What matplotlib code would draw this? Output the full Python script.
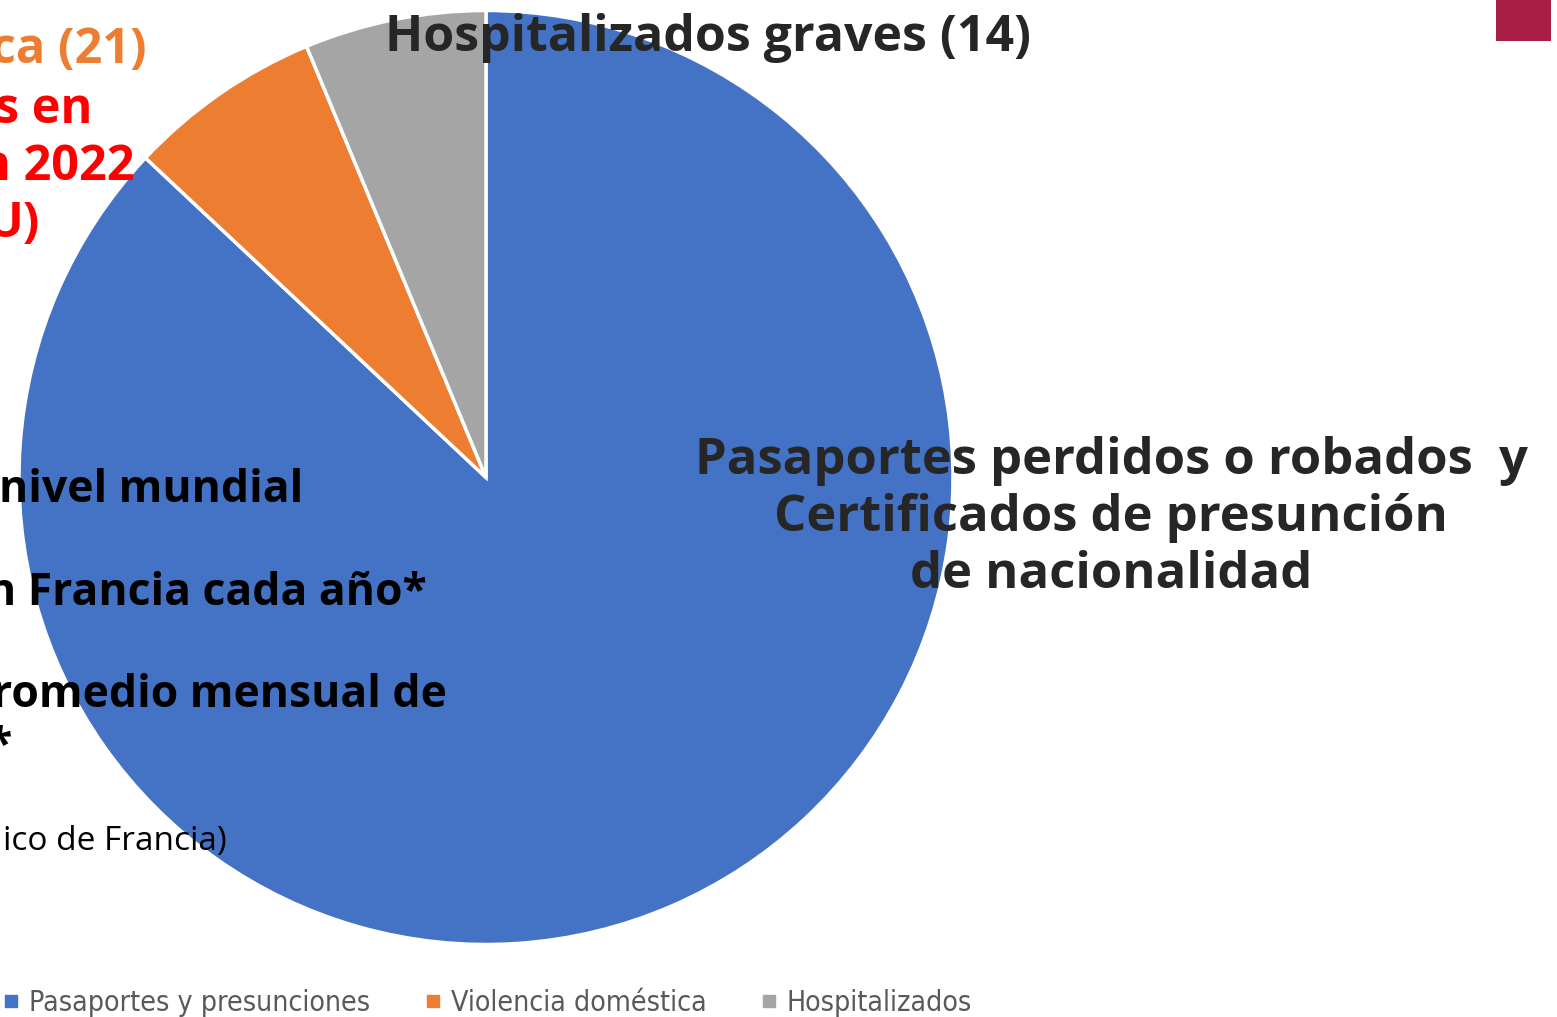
import matplotlib.pyplot as plt
from matplotlib.patches import Rectangle
from matplotlib.lines import Line2D

# datos del pastel
categorias = ["Pasaportes y presunciones", "Violencia doméstica", "Hospitalizados"]
valores = [194, 15, 14]
colores = ["#4472C4", "#ED7D31", "#A5A5A5"]

# etiquetas de los sectores
etiqueta_pasaportes = ["Pasaportes perdidos o robados  y", "Certificados de presunción", "de nacionalidad"]
etiqueta_hosp = "Hospitalizados graves (14)"

# textos de la diapositiva que quedan cortados a la izquierda
textos_rojos = ["s en", "n 2022", "U)"]
texto_naranja = "ca (21)"
textos_negros = ["nivel mundial", "n Francia cada año*", "romedio mensual de", "*"]
texto_fuente = "ico de Francia)"

W, H = 1557, 1017
def Y(y):
    return H - y

fig = plt.figure(figsize=(W / 100, H / 100), dpi=100)
ax = fig.add_axes([0, 0, 1, 1])

ax.pie(valores, colors=colores, startangle=90, counterclock=False,
       center=(486, Y(477.5)), radius=467,
       wedgeprops=dict(edgecolor="white", linewidth=2.5))
ax.set_xlim(0, W)
ax.set_ylim(0, H)
ax.set_aspect("equal")
ax.axis("off")

negrita = dict(family=["Open Sans", "DejaVu Sans"], weight="bold")
oscuro = "#262626"

# etiqueta del sector gris
ax.text(385, Y(51), etiqueta_hosp, fontsize=36, color=oscuro, va="baseline", ha="left", **negrita)

# etiqueta del sector azul
for i, linea in enumerate(etiqueta_pasaportes):
    ax.text(1111, Y(474 + 57 * i), linea, fontsize=36.5, color=oscuro, va="baseline", ha="center", **negrita)

# textos cortados a la izquierda
ax.text(147, Y(63), texto_naranja, fontsize=35, color="#ED7D31", va="baseline", ha="right", **negrita)
fin_rojos = [92, 135, 40]
base_rojos = [123, 180, 237]
for t, x, b in zip(textos_rojos, fin_rojos, base_rojos):
    ax.text(x, Y(b), t, fontsize=35, color="#FF0000", va="baseline", ha="right", **negrita)

fin_negros = [303, 427, 447, 12]
base_negros = [502, 605, 707, 758]
for t, x, b in zip(textos_negros, fin_negros, base_negros):
    ax.text(x, Y(b), t, fontsize=32, color="black", va="baseline", ha="right", **negrita)

ax.text(227, Y(850), texto_fuente, fontsize=24, color="black", va="baseline", ha="right",
        family=["Open Sans", "DejaVu Sans"])

# recuadro granate de la esquina
ax.add_patch(Rectangle((1496, Y(41)), 55, 41, facecolor="#A71F44", edgecolor="none"))

# leyenda
handles = [Line2D([], [], marker="s", linestyle="none", markersize=8.6, color=c) for c in colores]
ax.legend(handles, categorias, loc="center left", bbox_to_anchor=(3 / W, 1 - 1003 / H), ncol=3,
          frameon=False, borderaxespad=0, borderpad=0,
          handlelength=0.6, handletextpad=0.33, columnspacing=1.9,
          prop=dict(family="DejaVu Sans", stretch="condensed", size=20.4), labelcolor="#595959")

fig.savefig("out.png", dpi=100)
